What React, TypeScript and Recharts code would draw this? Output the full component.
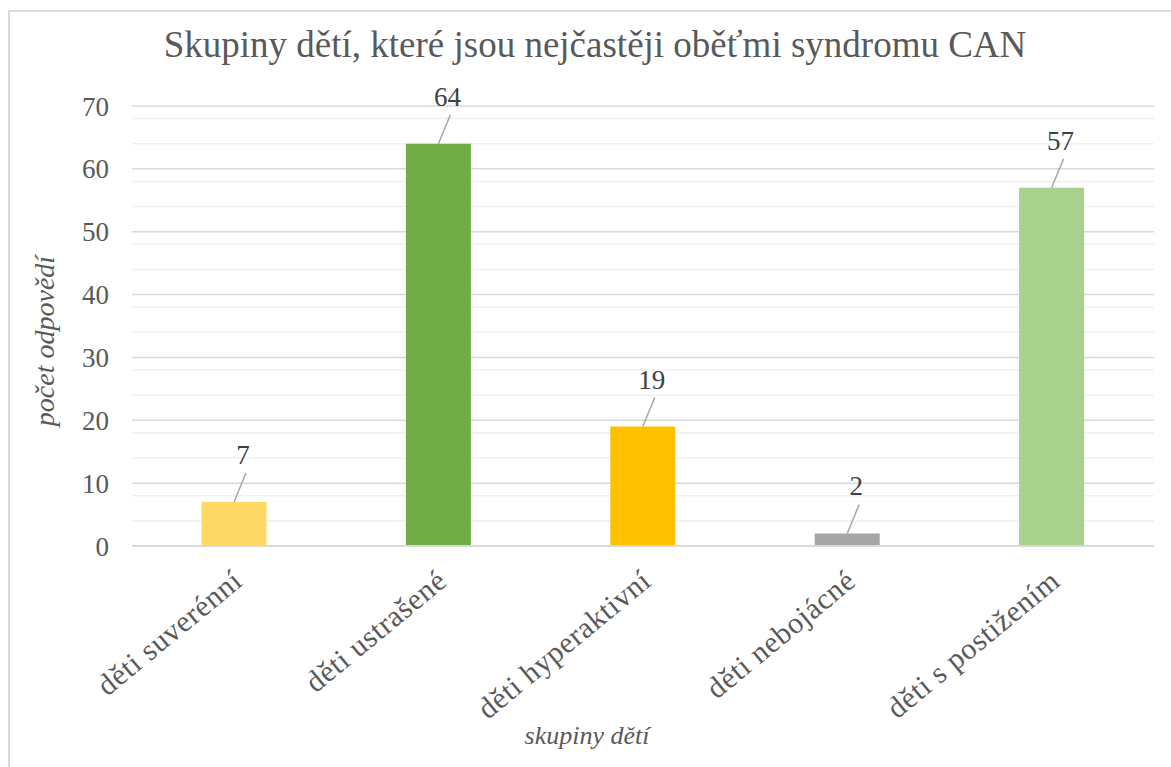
import { BarChart, Bar, XAxis, YAxis, CartesianGrid, Cell, LabelList } from 'recharts';

const categories = ['děti suverénní', 'děti ustrašené', 'děti hyperaktivní', 'děti nebojácné', 'děti s postižením'];
const counts = [7, 64, 19, 2, 57];
const barColors = ['#FFD966', '#70AD47', '#FFC000', '#A5A5A5', '#A9D18E'];
const majorTicks = [0, 10, 20, 30, 40, 50, 60, 70];
const minorTicks = [2, 4, 6, 8, 12, 14, 16, 18, 22, 24, 26, 28, 32, 34, 36, 38, 42, 44, 46, 48, 52, 54, 56, 58, 62, 64, 66, 68];

const data = categories.map((name, i) => ({ name, value: counts[i] }));

const FONT = 'Liberation Serif';

// value label with a short leader line, like Excel's callouts
const renderValueLabel = (props: any) => {
  const { x, y, width, value } = props;
  const cx = Number(x) + Number(width) / 2;
  const top = Number(y);
  return (
    <g>
      <line x1={cx} y1={top} x2={cx + 12} y2={top - 29} stroke="#a6a6a6" strokeWidth={1.5} />
      <text x={cx + 9} y={top - 38} textAnchor="middle" fontSize={27} fill="#404040" style={{ fontFamily: FONT }}>
        {value}
      </text>
    </g>
  );
};

const RotatedTick = (props: any) => {
  const { x, y, payload } = props;
  return (
    <g transform={`translate(${x + 10},${y + 30})`}>
      <text
        textAnchor="end"
        transform="rotate(-39.5)"
        fontSize={30}
        letterSpacing={0.6}
        fill="#595959"
        style={{ fontFamily: FONT }}
      >
        {payload.value}
      </text>
    </g>
  );
};

export default function App() {
  return (
    <div style={{ position: 'absolute', left: 0, top: 0, width: 1171, height: 767, background: '#fff' }}>
      <div
        style={{
          position: 'absolute',
          left: 8,
          top: 10,
          width: 1180,
          height: 770,
          borderTop: '2px solid #d9d9d9',
          borderLeft: '2px solid #d9d9d9',
          boxSizing: 'border-box',
        }}
      />
      <div
        style={{
          position: 'absolute',
          left: 0,
          top: 23,
          width: 1190,
          textAlign: 'center',
          fontFamily: FONT,
          fontSize: 37,
          lineHeight: '44px',
          color: '#595959',
        }}
      >
        Skupiny dětí, které jsou nejčastěji oběťmi syndromu CAN
      </div>
      <div style={{ position: 'absolute', left: 0, top: 0 }}>
        <BarChart
          width={1171}
          height={767}
          data={data}
          margin={{ top: 106, right: 17, bottom: 0, left: 0 }}
          barCategoryGap="34%"
        >
          <CartesianGrid vertical={false} horizontalValues={minorTicks} stroke="#f0f0f0" strokeWidth={1.5} />
          <CartesianGrid vertical={false} stroke="#d9d9d9" strokeWidth={1.5} />
          <XAxis
            dataKey="name"
            height={221}
            tickLine={false}
            axisLine={{ stroke: '#d9d9d9', strokeWidth: 2 }}
            interval={0}
            tick={<RotatedTick />}
            label={{
              content: () => (
                <text x={587} y={744} textAnchor="middle" fontSize={26} fontStyle="italic" fill="#595959" style={{ fontFamily: FONT }}>
                  skupiny dětí
                </text>
              ),
            }}
          />
          <YAxis
            domain={[0, 70]}
            ticks={majorTicks}
            width={132}
            tickLine={false}
            tickSize={0}
            tickMargin={23}
            axisLine={false}
            tick={{ fontSize: 27, fill: '#595959', style: { fontFamily: FONT } }}
            label={{
              content: () => (
                <text
                  x={54}
                  y={341}
                  transform="rotate(-90, 54, 341)"
                  textAnchor="middle"
                  fontSize={28}
                  fontStyle="italic"
                  fill="#595959"
                  style={{ fontFamily: FONT }}
                >
                  počet odpovědí
                </text>
              ),
            }}
          />
          <Bar dataKey="value" isAnimationActive={false}>
            {data.map((_, i) => (
              <Cell key={i} fill={barColors[i]} />
            ))}
            <LabelList dataKey="value" content={renderValueLabel} />
          </Bar>
        </BarChart>
      </div>
    </div>
  );
}
